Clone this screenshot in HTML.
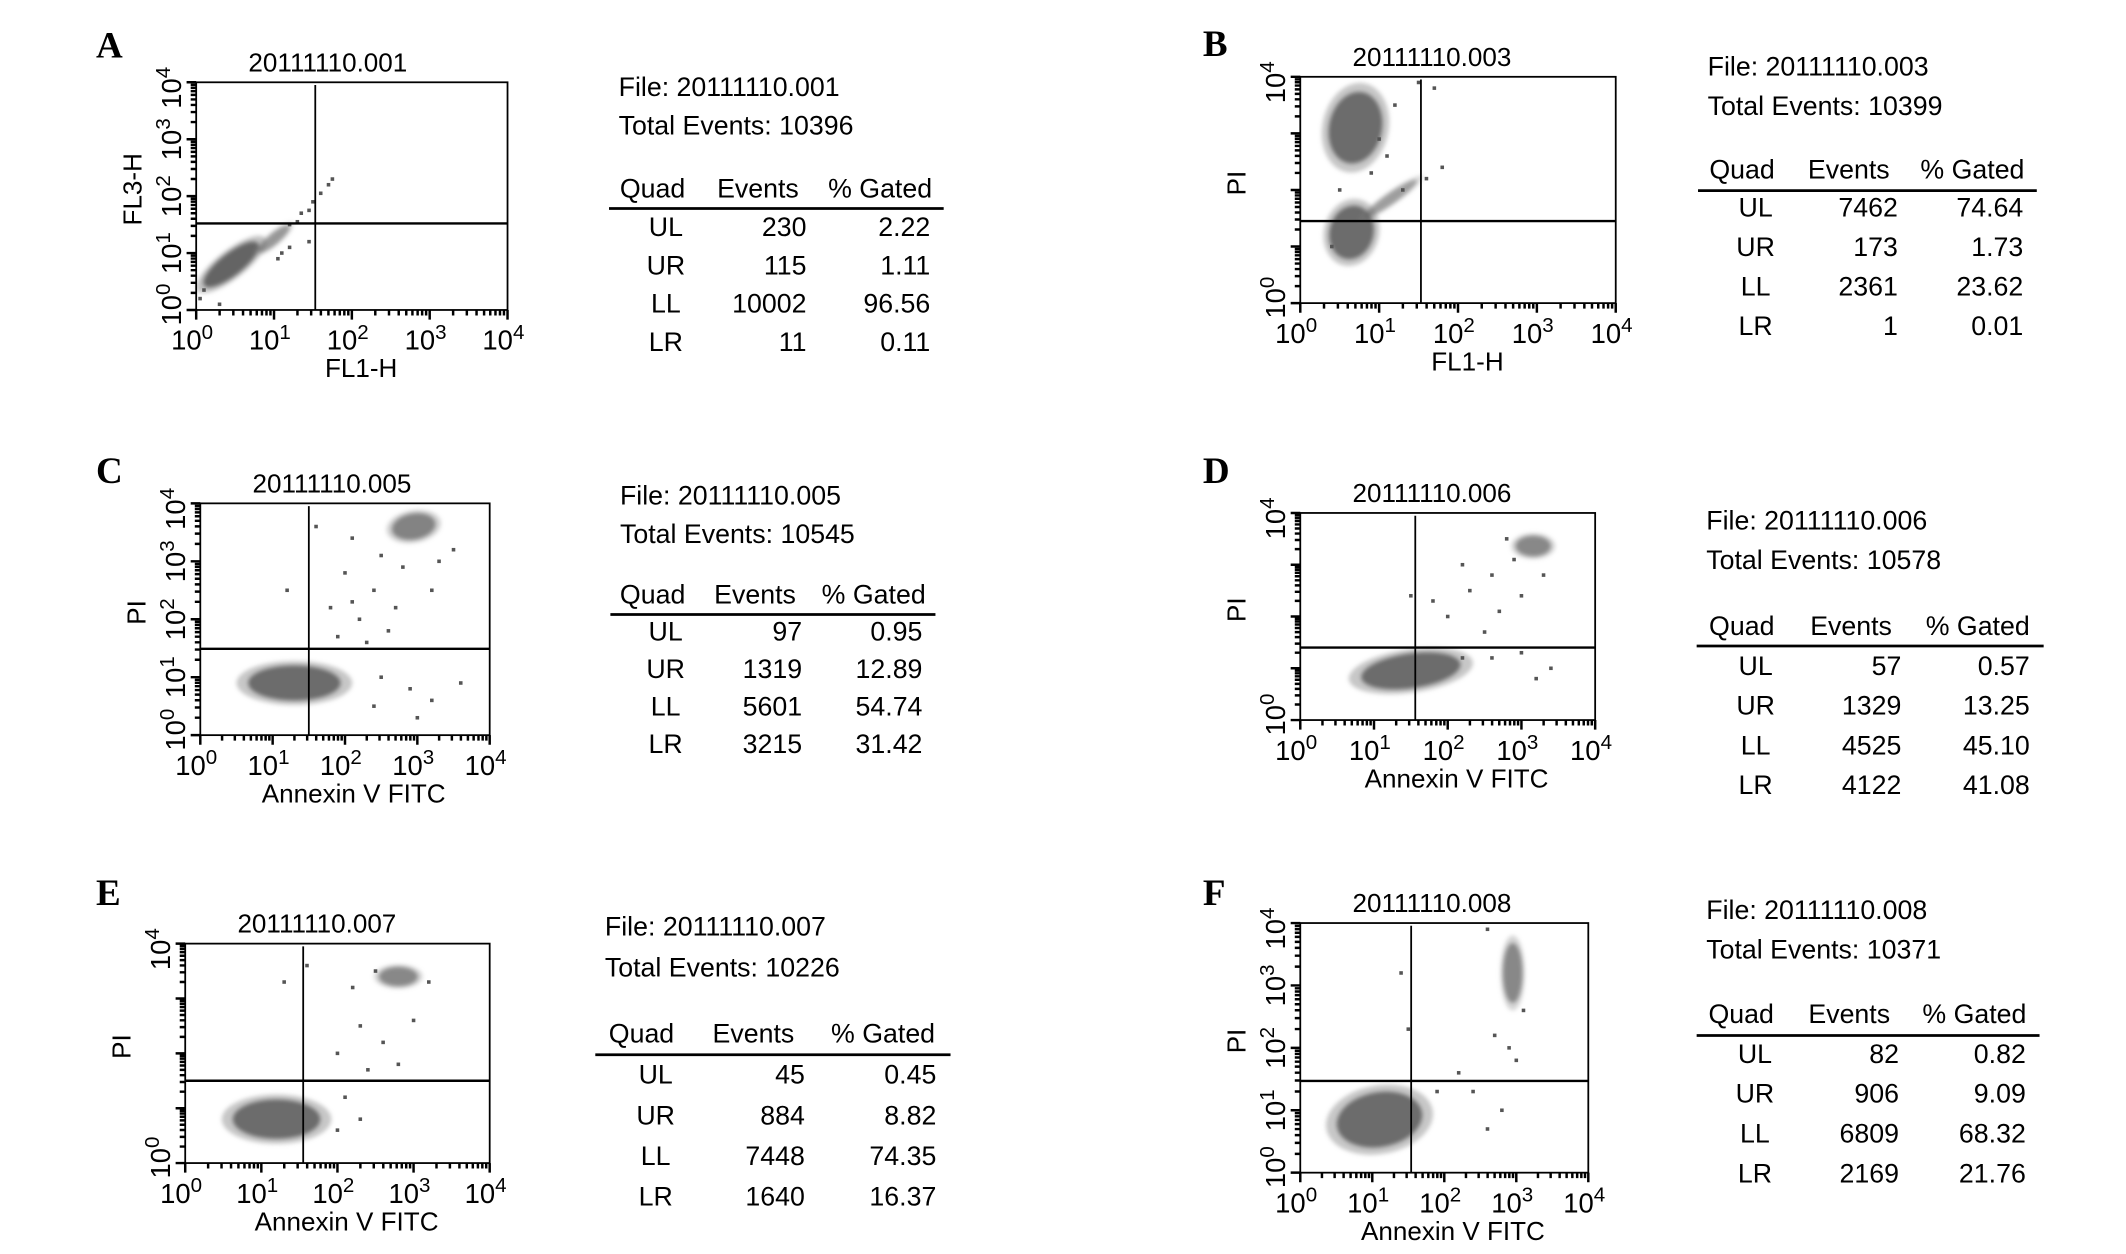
<!DOCTYPE html>
<html><head><meta charset="utf-8"><style>
html,body{margin:0;padding:0;background:#fff;}
svg{display:block;font-family:"Liberation Sans",Arial,sans-serif;}
</style></head><body>
<svg id="fig" width="2126" height="1254" viewBox="0 0 1550 914.3" xmlns="http://www.w3.org/2000/svg">
<defs><filter id="bl" x="-30%" y="-30%" width="160%" height="160%"><feGaussianBlur stdDeviation="1.6"/></filter></defs>
</svg>
<script>
const panelLetters=['A','B','C','D','E','F'];
const fileNames=['20111110.001','20111110.003','20111110.005','20111110.006','20111110.007','20111110.008'];
const totalEvents=[10396,10399,10545,10578,10226,10371];
const quadNames=['UL','UR','LL','LR'];
const quadEvents=[[230,115,10002,11],[7462,173,2361,1],[97,1319,5601,3215],[57,1329,4525,4122],[45,884,7448,1640],[82,906,6809,2169]];
const quadPct=[['2.22','1.11','96.56','0.11'],['74.64','1.73','23.62','0.01'],['0.95','12.89','54.74','31.42'],['0.57','13.25','45.10','41.08'],['0.45','8.82','74.35','16.37'],['0.82','9.09','68.32','21.76']];
const xTitles=['FL1-H','FL1-H','Annexin V FITC','Annexin V FITC','Annexin V FITC','Annexin V FITC'];
const yTitles=['FL3-H','PI','PI','PI','PI','PI'];
const decades=[0,1,2,3,4];
const gateX=[1.53,1.53,1.5,1.56,1.55,1.54];
const gateY=[1.52,1.45,1.49,1.40,1.5,1.47];
const yLabelAll=[true,false,true,false,false,true];
// clusters: [logX, logY, spreadX, spreadY, angle, density]
const clustersA=[[0.45,0.8,0.55,0.25,-38,1],[1.0,1.25,0.32,0.12,-40,0.6]];
const clustersB=[[0.7,3.1,0.42,0.8,12,0.95],[0.65,1.25,0.35,0.6,15,0.95],[1.15,1.85,0.5,0.12,-35,0.55]];
const clustersC=[[1.3,0.9,0.8,0.38,0,0.95],[2.95,3.6,0.38,0.28,-10,0.75]];
const clustersD=[[1.5,0.95,0.85,0.42,-8,0.95],[3.16,3.36,0.3,0.25,0,0.7]];
const clustersE=[[1.2,0.8,0.72,0.45,0,0.95],[2.8,3.4,0.32,0.22,0,0.7]];
const clustersF=[[1.1,0.85,0.75,0.55,-10,0.95],[2.95,3.2,0.17,0.6,0,0.7]];
const pointsA=[[1.2,1.5],[1.35,1.7],[1.5,1.9],[1.6,2.05],[1.7,2.2],[1.75,2.3],[1.45,1.75],[1.3,1.55],[0.05,0.2],[0.1,0.35],[1.05,0.9],[1.1,1.0],[1.2,1.1],[1.45,1.2],[0.3,0.1]];
const pointsB=[[1.7,3.8],[0.9,2.3],[1.1,2.6],[1.3,2.0],[1.8,2.4],[1.5,3.9],[0.4,1.0],[1.2,3.5],[0.5,2.0],[1.0,2.9],[1.6,2.2]];
const pointsC=[[2.2,2.0],[2.4,2.5],[2.6,1.8],[2.0,2.8],[2.8,2.9],[3.2,2.5],[2.5,3.1],[1.8,2.2],[3.3,3.0],[2.3,1.6],[2.7,2.2],[3.5,3.2],[1.6,3.6],[2.1,3.4],[1.2,2.5],[2.9,0.8],[2.5,1.0],[3.2,0.6],[3.0,0.3],[3.6,0.9],[2.4,0.5],[1.9,1.7],[2.1,2.3]];
const pointsD=[[2.0,2.0],[2.3,2.5],[2.6,2.8],[2.9,3.1],[2.5,1.7],[3.0,2.4],[1.8,2.3],[2.2,3.0],[3.3,2.8],[2.7,2.1],[3.0,1.3],[2.6,1.2],[3.4,1.0],[3.2,0.8],[2.2,1.2],[1.5,2.4],[2.8,3.5]];
const pointsE=[[2.0,2.0],[2.3,2.5],[2.6,2.2],[1.6,3.6],[2.2,3.2],[2.5,3.5],[3.2,3.3],[2.8,1.8],[2.4,1.7],[3.0,2.6],[1.3,3.3],[2.1,1.2],[2.3,0.8],[2.0,0.6]];
const pointsF=[[2.7,2.2],[2.9,2.0],[3.0,1.8],[2.6,3.9],[1.4,3.2],[1.5,2.3],[2.2,1.6],[2.4,1.3],[2.8,1.0],[2.6,0.7],[1.9,1.3],[3.1,2.6]];
const clusterSets=[clustersA,clustersB,clustersC,clustersD,clustersE,clustersF];
const pointSets=[pointsA,pointsB,pointsC,pointsD,pointsE,pointsF];

const boxes=[[143,60,370,226],[948,56,1178,221],[146,367,357,536],[948,374,1163,525],[135,688,357,848],[948,673,1158,855]];
const letterPos=[[70,42],[877,41],[70,352],[877,352],[70,660],[877,660]];
const tables=[[444,70,98,144,152,172,28,244],[1238,55,84,130,139,158,28.7,247],[445,368,396,440,448,467,27.3,237],[1237,386,415,463,471,492,29,253],[434,682,712,760,769,790,29.7,259],[1237,670,699,746,755,775,29,250]];

const svg=document.getElementById('fig');
const NS='http://www.w3.org/2000/svg';
function mk(tag,attrs,parent,txt){const e=document.createElementNS(NS,tag);for(const k in attrs)e.setAttribute(k,attrs[k]);if(txt!==undefined)e.textContent=txt;(parent||svg).appendChild(e);return e;}

panelLetters.forEach((L,i)=>{
  const g=mk('g',{});
  
  
  const [x0,y0,x1,y1]=boxes[i];
  const dw=(x1-x0)/4, dh=(y1-y0)/4;
  const sx=v=>x0+v*dw, sy=v=>y1-v*dh;
  const lt=mk('text',{x:letterPos[i][0],y:letterPos[i][1],'font-family':'Liberation Serif,serif','font-weight':'bold','font-size':27},g,L);
  
  
  const tt=mk('text',{x:x0+96,y:y0-8,'text-anchor':'middle','font-size':19},g,fileNames[i]);
  
  
  const sg=mk('g',{filter:'url(#bl)'},g);
  
  
  clusterSets[i].forEach(c=>{
    const cx=sx(c[0]),cy=sy(c[1]),rx=c[2]*dw,ry=c[3]*dh;
    const o=mk('ellipse',{cx:cx,cy:cy,rx:rx,ry:ry,fill:'#888','fill-opacity':0.5*c[5],transform:`rotate(${c[4]} ${cx} ${cy})`},sg);
    
    
    const e=mk('ellipse',{cx:cx,cy:cy,rx:rx*0.8,ry:ry*0.8,fill:'#555','fill-opacity':0.85*c[5],transform:`rotate(${c[4]} ${cx} ${cy})`},sg);
    
    
  });
  pointSets[i].forEach(p=>{
    const r=mk('rect',{x:sx(p[0])-1.3,y:sy(p[1])-1.3,width:2.6,height:2.6,fill:'#555'},g);
    
    
  });
  const b=mk('rect',{x:x0,y:y0,width:x1-x0,height:y1-y0,fill:'none',stroke:'#000','stroke-width':1.3},g);
  
  
  const gv=mk('line',{x1:sx(gateX[i]),x2:sx(gateX[i]),y1:y0+2,y2:y1,stroke:'#000','stroke-width':1.3},g);
  
  
  const gh=mk('line',{x1:x0,x2:x1,y1:sy(gateY[i]),y2:sy(gateY[i]),stroke:'#000','stroke-width':1.8},g);
  
  
  let d='';
  for(let k=0;k<4;k++){for(let m=1;m<10;m++){const v=k+Math.log10(m);const len=m===1?7:4;
    d+=`M${sx(v)} ${y1}v${len}M${x0} ${sy(v)}h${-len}`;}}
  d+=`M${x1} ${y1}v7M${x0} ${y0}h-7`;
  const tk=mk('path',{d:d,stroke:'#000','stroke-width':1.8,fill:'none'},g);
  
  
  decades.forEach(k=>{
    const t=mk('text',{x:sx(k)-3,y:y1+29,'text-anchor':'middle','font-size':20},g);
    
    
    mk('tspan',{},t,'10');mk('tspan',{dy:-8,'font-size':15},t,String(k));
    if(yLabelAll[i]||k===0||k===4){
      const yy=sy(k)+(k===0?-4:k===4?4:0);
      const u=mk('text',{x:x0-11,y:yy,'text-anchor':'middle','font-size':20,transform:`rotate(-90 ${x0-11} ${yy})`},g);
      
      
      mk('tspan',{},u,'10');mk('tspan',{dy:-8,'font-size':15},u,String(k));
    }
  });
  const xt=mk('text',{x:(x0+x1)/2+(x1-x0)*0.03,y:y1+49,'text-anchor':'middle','font-size':19},g,xTitles[i]);
  
  
  const ycx=x0-40, ycy=(y0+y1)/2-5;
  const yt=mk('text',{x:ycx,y:ycy,'text-anchor':'middle','font-size':19,transform:`rotate(-90 ${ycx} ${ycy})`},g,yTitles[i]);
  
  
  const [tx,yF,yT,yH,yR,yRow,step,w]=tables[i];
  const tg=mk('g',{'font-size':19.5},g);
  
  
  const f=mk('text',{x:tx+7,y:yF},tg,'File: '+fileNames[i]);
  
  
  const te=mk('text',{x:tx+7,y:yT},tg,'Total Events: '+totalEvents[i]);
  
  
  [['Quad',0.13],['Events',0.445],['% Gated',0.81]].forEach(h=>{
    const ht=mk('text',{x:tx+h[1]*w,y:yH,'text-anchor':'middle'},tg,h[0]);
    
    
  });
  const rl=mk('line',{x1:tx,x2:tx+w,y1:yR,y2:yR,stroke:'#000','stroke-width':2},tg);
  
  
  quadNames.forEach((q,r)=>{
    const y=yRow+r*step;
    const a=mk('text',{x:tx+0.17*w,y:y,'text-anchor':'middle'},tg,q);
    
    
    const ev=mk('text',{x:tx+0.59*w,y:y,'text-anchor':'end'},tg,String(quadEvents[i][r]));
    
    
    const pc=mk('text',{x:tx+0.96*w,y:y,'text-anchor':'end'},tg,quadPct[i][r]);
    
    
  });
});
</script>
</body></html>
